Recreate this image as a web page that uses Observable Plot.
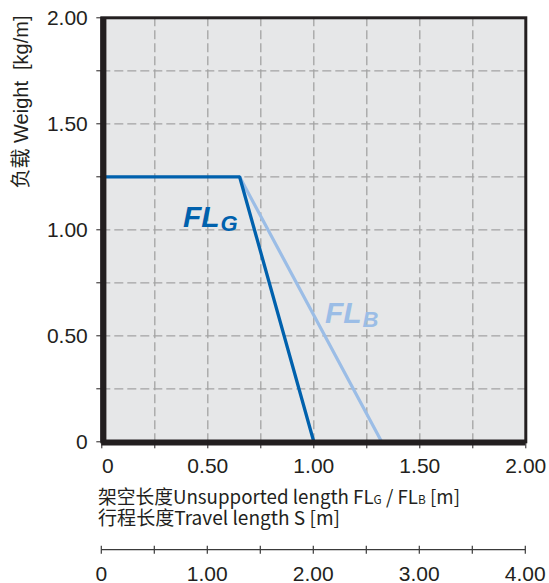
<!DOCTYPE html>
<html><head><meta charset="utf-8">
<script src="https://cdn.jsdelivr.net/npm/d3@7"></script>
<script src="https://cdn.jsdelivr.net/npm/@observablehq/plot@0.6"></script>
<style>html,body{margin:0;padding:0;background:#fff} svg{display:block}</style>
</head><body><div id="chart"></div>
<script>
// ---- data ----
const flgLength = [0, 0.65, 1.00];
const flgWeight = [1.25, 1.25, 0];
const flbLength = [0.65, 1.32];
const flbWeight = [1.25, 0];

const xMinorTicks = [0, 0.25, 0.5, 0.75, 1, 1.25, 1.5, 1.75, 2];
const xLabelValues = [0, 0.5, 1, 1.5, 2];
const xTickLabels = ["0", "0.50", "1.00", "1.50", "2.00"];
const yMinorTicks = [0, 0.25, 0.5, 0.75, 1, 1.25, 1.5, 1.75, 2];
const yLabelValues = [0, 0.5, 1, 1.5, 2];
const yTickLabels = ["0", "0.50", "1.00", "1.50", "2.00"];
const gridValues = [0.25, 0.5, 0.75, 1, 1.25, 1.5, 1.75];

// travel length S (= 2 x unsupported length) secondary axis
const travelTickValues = [0, 0.5, 1, 1.5, 2, 2.5, 3, 3.5, 4];
const travelLabelValues = [0, 1, 2, 3, 4];
const travelTickLabels = ["0", "1.00", "2.00", "3.00", "4.00"];

const yTitle = "负载 Weight  [kg/m]";
const xTitle1 = ["架空长度Unsupported length FL", "G", " / FL", "B", " [m]"];
const xTitle2 = "行程长度Travel length S [m]";

const flgData = flgLength.map((x, i) => ({x, y: flgWeight[i]}));
const flbData = flbLength.map((x, i) => ({x, y: flbWeight[i]}));

const fmtX = d => { const i = xLabelValues.indexOf(d); return i < 0 ? "" : xTickLabels[i]; };
const fmtY = d => { const i = yLabelValues.indexOf(d); return i < 0 ? "" : yTickLabels[i]; };

const INK = "#231f20";
const DARK = "#0061ad";
const LIGHT = "#9bbde6";
const LATIN = "'Liberation Sans', Arial, 'Noto Sans CJK SC', sans-serif";
const CJK = "'Noto Sans CJK SC', sans-serif";

const plot = Plot.plot({
  width: 549, height: 583,
  marginLeft: 101.3, marginRight: 23.7, marginTop: 17.3, marginBottom: 141.7,
  x: {domain: [0, 2], label: null},
  y: {domain: [0, 2], label: null},
  style: {fontFamily: LATIN, fontSize: "21px", color: INK, background: "#fff", overflow: "visible"},
  marks: [
    Plot.frame({fill: "#e6e7e8"}),
    Plot.gridX(gridValues, {stroke: "#a3a3a3", strokeOpacity: 1, strokeWidth: 1.3, strokeDasharray: "9,4"}),
    Plot.gridY(gridValues, {stroke: "#a3a3a3", strokeOpacity: 1, strokeWidth: 1.3, strokeDasharray: "9,4"}),
    Plot.line(flbData, {x: "x", y: "y", stroke: LIGHT, strokeWidth: 3.2}),
    Plot.line(flgData, {x: "x", y: "y", stroke: DARK, strokeWidth: 3.3, strokeLinejoin: "miter"}),
    Plot.frame({stroke: INK, strokeWidth: 3}),
    Plot.ruleX([0], {stroke: INK, strokeWidth: 6, dx: 1.6}),
    Plot.ruleY([0], {stroke: INK, strokeWidth: 6, dy: 0.7}),
    Plot.axisY(yMinorTicks, {anchor: "left", tickSize: 5, tickPadding: 9, tickFormat: fmtY, label: null}),
    Plot.axisX(xMinorTicks, {anchor: "bottom", tickSize: 7, tickPadding: 9.5, tickFormat: fmtX, label: null})
  ]
});
document.getElementById("chart").appendChild(plot);

const sx = plot.scale("x"), sy = plot.scale("y");
const svg = d3.select(plot);

// nudge the x-axis "0" label as in the reference
svg.selectAll('g[aria-label="x-axis tick label"] text')
  .filter(function () { return this.textContent === "0"; })
  .attr("dx", 6);

// series labels FL_G and FL_B
function flLabel(sub, xv, yv, color) {
  const t = svg.append("text")
    .attr("x", sx.apply(xv)).attr("y", sy.apply(yv))
    .attr("text-anchor", "start")
    .attr("fill", color).attr("font-family", LATIN)
    .attr("font-weight", "bold").attr("font-style", "italic").attr("font-size", 30);
  t.append("tspan").text("FL");
  t.append("tspan").attr("font-size", 22).attr("dx", 1).attr("dy", 4).text(sub);
}
flLabel("G", 0.385, 1.011, DARK);
flLabel("B", 1.055, 0.558, LIGHT);

// y-axis title
svg.append("text")
  .attr("transform", "translate(28,102) rotate(-90)")
  .attr("text-anchor", "middle")
  .attr("font-family", LATIN).attr("font-size", 20).attr("fill", INK)
  .style("white-space", "pre")
  .text(yTitle);

// x-axis titles (condensed to the reference's width)
const t1 = svg.append("text").attr("x", 98).attr("y", 504)
  .attr("text-anchor", "start")
  .attr("font-family", CJK).attr("font-size", 19).attr("fill", INK)
  .attr("textLength", 362).attr("lengthAdjust", "spacingAndGlyphs")
  .style("white-space", "pre");
xTitle1.forEach((s, i) => {
  const sp = t1.append("tspan").text(s);
  if (i % 2 === 1) sp.attr("font-size", 12);
});
svg.append("text").attr("x", 98).attr("y", 525)
  .attr("text-anchor", "start")
  .attr("font-family", CJK).attr("font-size", 19).attr("fill", INK)
  .attr("textLength", 242).attr("lengthAdjust", "spacingAndGlyphs")
  .style("white-space", "pre")
  .text(xTitle2);

// secondary travel-length axis, using the x scale (S = 2 x FL)
const gS = svg.append("g").attr("stroke", "#3a3a3a");
gS.append("line").attr("x1", sx.apply(0)).attr("x2", sx.apply(2))
  .attr("y1", 549.7).attr("y2", 549.7).attr("stroke-width", 1.3);
gS.selectAll(".t").data(travelTickValues).join("line")
  .attr("x1", d => sx.apply(d / 2)).attr("x2", d => sx.apply(d / 2))
  .attr("y1", 545.7).attr("y2", 553.7).attr("stroke-width", 1.2);
svg.append("g").selectAll("text").data(travelLabelValues).join("text")
  .attr("x", d => sx.apply(d / 2)).attr("y", 580.5)
  .attr("text-anchor", "middle").attr("font-family", LATIN).attr("font-size", 21).attr("fill", INK)
  .text((d, i) => travelTickLabels[i]);
</script>
</body></html>
